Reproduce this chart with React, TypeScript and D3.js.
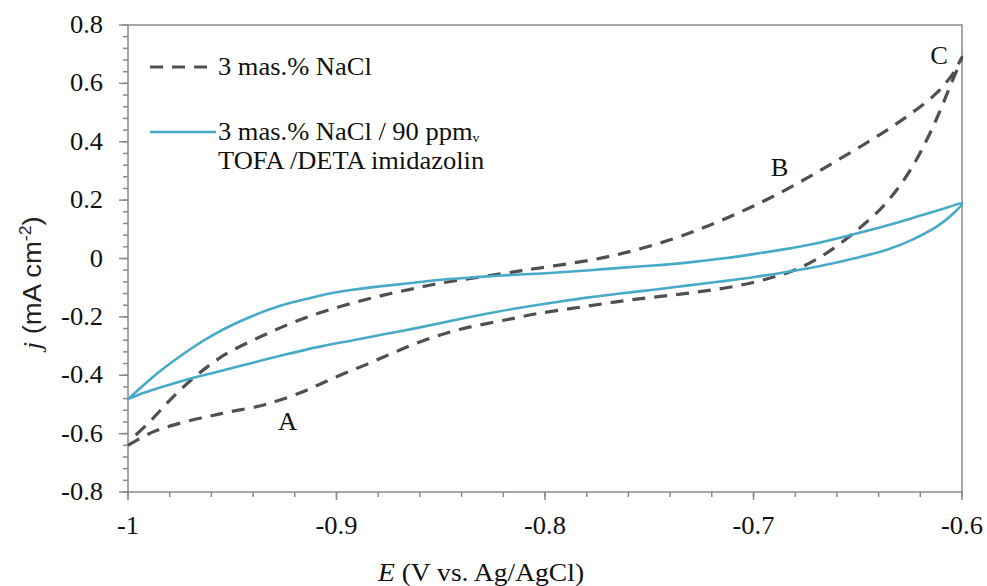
import React from "react";
import * as d3 from "d3";

// Potential (V vs. Ag/AgCl) and current density (mA cm-2) for the two CV loops
const naclE = [-1.0, -0.988, -0.975, -0.962, -0.951, -0.938, -0.929, -0.918, -0.908, -0.897, -0.885, -0.874, -0.863, -0.852, -0.841, -0.828, -0.815, -0.804, -0.788, -0.772, -0.756, -0.740, -0.724, -0.708, -0.692, -0.679, -0.668, -0.659, -0.649, -0.639, -0.631, -0.624, -0.617, -0.611, -0.606, -0.601, -0.6, -0.604, -0.612, -0.624, -0.636, -0.649, -0.662, -0.674, -0.687, -0.700, -0.713, -0.726, -0.740, -0.756, -0.772, -0.788, -0.806, -0.815, -0.828, -0.841, -0.852, -0.863, -0.874, -0.885, -0.897, -0.908, -0.919, -0.930, -0.941, -0.953, -0.961, -0.970, -0.980, -0.989, -0.998];
const naclJ = [-0.64, -0.594, -0.564, -0.542, -0.525, -0.507, -0.489, -0.462, -0.431, -0.396, -0.361, -0.327, -0.294, -0.266, -0.243, -0.223, -0.205, -0.189, -0.172, -0.155, -0.139, -0.126, -0.112, -0.094, -0.067, -0.036, 0.005, 0.048, 0.105, 0.170, 0.238, 0.312, 0.405, 0.498, 0.585, 0.670, 0.69, 0.637, 0.568, 0.499, 0.440, 0.382, 0.327, 0.277, 0.226, 0.180, 0.138, 0.100, 0.064, 0.030, 0.003, -0.017, -0.036, -0.046, -0.060, -0.074, -0.087, -0.103, -0.120, -0.139, -0.162, -0.186, -0.214, -0.247, -0.283, -0.327, -0.366, -0.418, -0.486, -0.555, -0.616];

const inhE = [-1.0, -0.993, -0.985, -0.977, -0.970, -0.962, -0.953, -0.940, -0.927, -0.914, -0.902, -0.889, -0.876, -0.863, -0.850, -0.837, -0.825, -0.812, -0.796, -0.780, -0.764, -0.748, -0.732, -0.716, -0.700, -0.684, -0.668, -0.652, -0.636, -0.620, -0.607, -0.6, -0.604, -0.612, -0.624, -0.636, -0.652, -0.668, -0.684, -0.700, -0.716, -0.732, -0.748, -0.764, -0.780, -0.796, -0.812, -0.828, -0.844, -0.860, -0.876, -0.892, -0.908, -0.924, -0.940, -0.956, -0.972, -0.985, -0.994, -1.0];
const inhJ = [-0.482, -0.437, -0.388, -0.345, -0.310, -0.274, -0.238, -0.196, -0.162, -0.138, -0.118, -0.104, -0.093, -0.083, -0.073, -0.066, -0.060, -0.055, -0.049, -0.041, -0.032, -0.024, -0.014, -0.001, 0.015, 0.033, 0.055, 0.083, 0.113, 0.147, 0.175, 0.189, 0.155, 0.110, 0.064, 0.030, 0.000, -0.026, -0.046, -0.064, -0.079, -0.093, -0.107, -0.120, -0.134, -0.151, -0.169, -0.189, -0.212, -0.236, -0.258, -0.280, -0.302, -0.328, -0.357, -0.386, -0.415, -0.443, -0.464, -0.482];

const xTicks = [-1, -0.9, -0.8, -0.7, -0.6];
const xTickLabels = ["-1", "-0.9", "-0.8", "-0.7", "-0.6"];
const yTicks = [0.8, 0.6, 0.4, 0.2, 0, -0.2, -0.4, -0.6, -0.8];
const yTickLabels = ["0.8", "0.6", "0.4", "0.2", "0", "-0.2", "-0.4", "-0.6", "-0.8"];

const legendLabels = ["3 mas.% NaCl", "3 mas.% NaCl / 90 ppm", "TOFA /DETA imidazolin"];
const annotations = [
  { label: "A", e: -0.9235, j: -0.56 },
  { label: "B", e: -0.6875, j: 0.31 },
  { label: "C", e: -0.611, j: 0.695 },
];

const W = 987;
const H = 586;
const left = 128;
const right = 962;
const top = 25;
const bottom = 492;

const serif = "'Liberation Serif', 'Times New Roman', serif";
const sans = "'Liberation Sans', Arial, sans-serif";
const axisColor = "#8a8a8a";
const dashColor = "#505050";
const blue = "#47aac8";
const SX = 1.06; // horizontal stretch of the original figure's text

function T({ x, y, anchor = "start", size = 25, children }: any) {
  return (
    <g transform={`translate(${x},${y}) scale(${SX},1)`}>
      <text x={0} y={0} textAnchor={anchor} fontFamily={serif} fontSize={size} fill="#111">
        {children}
      </text>
    </g>
  );
}

export default function App() {
  const x = d3.scaleLinear().domain([-1, -0.6]).range([left, right]);
  const y = d3.scaleLinear().domain([-0.8, 0.8]).range([bottom, top]);

  const line = d3
    .line<[number, number]>()
    .x((d) => x(d[0]))
    .y((d) => y(d[1]))
    .curve(d3.curveCatmullRom.alpha(0.5));

  const naclPts = naclE.map((e, i) => [e, naclJ[i]] as [number, number]);
  const inhPts = inhE.map((e, i) => [e, inhJ[i]] as [number, number]);

  const xMinor = d3.range(0, 21).map((i) => -1 + i * 0.02);
  const yMinor = d3.range(0, 41).map((i) => -0.8 + i * 0.04);

  return (
    <svg
      width={W}
      height={H}
      style={{ position: "absolute", left: 0, top: 0, background: "#fff" }}
    >
      <rect x={0} y={0} width={W} height={H} fill="#fff" />
      {/* frame */}
      <rect x={left} y={top} width={right - left} height={bottom - top} fill="none" stroke={axisColor} strokeWidth={1.5} />

      {/* x ticks */}
      {xMinor.map((v, i) => (
        <line key={"xm" + i} x1={x(v)} x2={x(v)} y1={bottom} y2={bottom + 5} stroke={axisColor} strokeWidth={1.5} />
      ))}
      {xTicks.map((v, i) => (
        <g key={"xt" + i}>
          <line x1={x(v)} x2={x(v)} y1={bottom} y2={bottom + 8} stroke={axisColor} strokeWidth={1.5} />
          <T x={x(v)} y={534} anchor="middle">
            {xTickLabels[i]}
          </T>
        </g>
      ))}

      {/* y ticks */}
      {yMinor.map((v, i) => (
        <line key={"ym" + i} x1={left - 5} x2={left} y1={y(v)} y2={y(v)} stroke={axisColor} strokeWidth={1.5} />
      ))}
      {yTicks.map((v, i) => (
        <g key={"yt" + i}>
          <line x1={left - 9} x2={left} y1={y(v)} y2={y(v)} stroke={axisColor} strokeWidth={1.5} />
          <T x={103} y={y(v) + 8} anchor="end">
            {yTickLabels[i]}
          </T>
        </g>
      ))}

      {/* curves */}
      <path d={line(naclPts) || ""} fill="none" stroke={dashColor} strokeWidth={3.2} strokeDasharray="13 9" />
      <path d={line(inhPts) || ""} fill="none" stroke={blue} strokeWidth={2.6} />

      {/* annotations */}
      {annotations.map((a) => (
        <T key={a.label} x={x(a.e)} y={y(a.j) + 8} anchor="middle">
          {a.label}
        </T>
      ))}

      {/* legend */}
      <line x1={150} x2={216} y1={67} y2={67} stroke={dashColor} strokeWidth={3.2} strokeDasharray="13 9" />
      <T x={218} y={75}>{legendLabels[0]}</T>
      <line x1={150} x2={216} y1={132} y2={132} stroke={blue} strokeWidth={2.6} />
      <T x={218} y={140}>
        {legendLabels[1]}
        <tspan fontSize={13} dy={2}>v</tspan>
      </T>
      <T x={218} y={169}>{legendLabels[2]}</T>

      {/* axis titles */}
      <T x={481} y={581} anchor="middle" size={26}>
        <tspan fontStyle="italic">E</tspan> (V vs. Ag/AgCl)
      </T>
      <g transform="translate(41,283) rotate(-90) scale(1.1,1)">
        <text x={0} y={0} textAnchor="middle" fontFamily={sans} fontSize={25} fill="#222">
          <tspan fontFamily={serif} fontStyle="italic">j</tspan>
          <tspan> (mA cm</tspan>
          <tspan fontSize={16} dy={-10}>-2</tspan>
          <tspan dy={10}>)</tspan>
        </text>
      </g>
    </svg>
  );
}
